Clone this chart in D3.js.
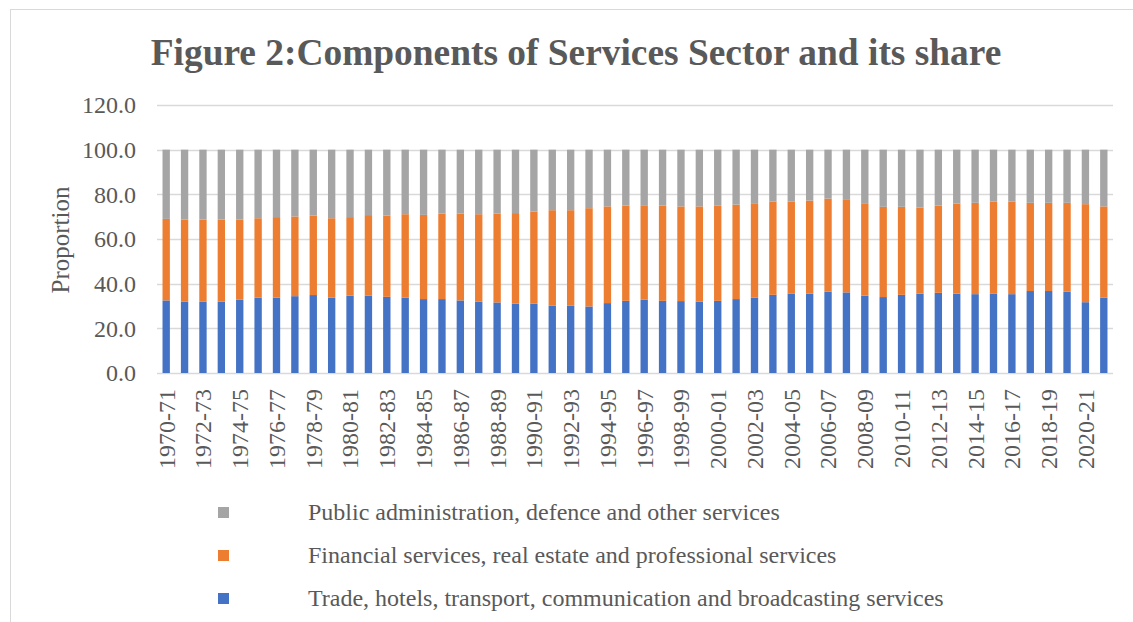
<!DOCTYPE html>
<html>
<head>
<meta charset="utf-8">
<script src="https://cdn.jsdelivr.net/npm/d3@7"></script>
<style>
  html, body { margin: 0; padding: 0; background: #fff; }
  svg { display: block; }
  text { font-family: "Liberation Serif", "Times New Roman", serif; fill: #595959; }
</style>
</head>
<body>
<svg id="chart" width="1133" height="622"></svg>
<script>
// Fiscal years, 1970-71 through 2021-22
const years = [
  "1970-71","1971-72","1972-73","1973-74","1974-75","1975-76","1976-77","1977-78",
  "1978-79","1979-80","1980-81","1981-82","1982-83","1983-84","1984-85","1985-86",
  "1986-87","1987-88","1988-89","1989-90","1990-91","1991-92","1992-93","1993-94",
  "1994-95","1995-96","1996-97","1997-98","1998-99","1999-00","2000-01","2001-02",
  "2002-03","2003-04","2004-05","2005-06","2006-07","2007-08","2008-09","2009-10",
  "2010-11","2011-12","2012-13","2013-14","2014-15","2015-16","2016-17","2017-18",
  "2018-19","2019-20","2020-21","2021-22"
];

// Share (%) of each component in services output
const trade = [
  32.5, 32.0, 31.9, 32.0, 32.8, 33.7, 33.7, 34.4, 34.9, 33.7, 34.6, 34.7, 34.1,
  33.7, 33.1, 33.1, 32.5, 32.0, 31.6, 31.1, 31.0, 30.1, 30.1, 29.8, 31.3, 32.3,
  32.8, 32.3, 32.2, 31.9, 32.3, 33.1, 33.8, 35.0, 35.6, 35.5, 36.4, 36.1, 34.6,
  34.0, 35.0, 35.5, 35.9, 35.5, 35.3, 35.6, 35.3, 36.7, 36.7, 36.4, 31.7, 33.7
];
const financial = [
  36.5, 36.7, 36.8, 36.7, 35.9, 35.6, 36.1, 35.7, 35.6, 35.6, 35.2, 36.0, 36.4,
  37.4, 37.7, 38.3, 38.9, 39.1, 39.8, 40.5, 41.3, 42.8, 42.8, 44.0, 43.3, 42.7,
  42.3, 42.7, 42.4, 42.7, 42.6, 42.3, 42.2, 41.8, 41.2, 41.7, 41.7, 41.7, 41.4,
  40.4, 39.4, 38.6, 39.1, 40.4, 40.9, 41.2, 41.5, 39.5, 39.5, 39.8, 43.9, 40.9
];
const publicAdmin = [
  31.0, 31.3, 31.3, 31.3, 31.3, 30.7, 30.2, 29.9, 29.5, 30.7, 30.2, 29.3, 29.5,
  28.9, 29.2, 28.6, 28.6, 28.9, 28.6, 28.4, 27.7, 27.1, 27.1, 26.2, 25.4, 25.0,
  24.9, 25.0, 25.4, 25.4, 25.1, 24.6, 24.0, 23.2, 23.2, 22.8, 21.9, 22.2, 24.0,
  25.6, 25.6, 25.9, 25.0, 24.1, 23.8, 23.2, 23.2, 23.8, 23.8, 23.8, 24.4, 25.4
];

const seriesNames = [
  "Trade, hotels, transport, communication and broadcasting services",
  "Financial services, real estate and professional services",
  "Public administration, defence and other services"
];
const seriesColors = ["#4472c4", "#ed7d31", "#a5a5a5"];
const yTicks = [0, 20, 40, 60, 80, 100, 120];

const svg = d3.select("#chart");
const W = 1133, H = 622;
const plot = { left: 157, right: 1113, top: 105, bottom: 373 };
const labelSize = 24;

// Outer chart frame (only top and left edges fall inside the view)
svg.append("rect")
  .attr("x", 10.5).attr("y", 9.5)
  .attr("width", W + 20).attr("height", H + 20)
  .attr("fill", "#fff").attr("stroke", "#d9d9d9").attr("stroke-width", 1);

const x = d3.scaleBand().domain(years)
  .range([plot.left, plot.right]).paddingInner(0.6).paddingOuter(0.3);
const y = d3.scaleLinear().domain([0, 120]).range([plot.bottom, plot.top]);

// Gridlines
svg.append("g")
  .selectAll("line").data(yTicks).join("line")
  .attr("x1", plot.left).attr("x2", plot.right)
  .attr("y1", d => Math.round(y(d)) + 0.5).attr("y2", d => Math.round(y(d)) + 0.5)
  .attr("stroke", "#d9d9d9").attr("stroke-width", 1.5);

// Y axis tick labels
const yAxis = d3.axisLeft(y).tickValues(yTicks).tickFormat(d3.format(".1f")).tickSize(0).tickPadding(0);
svg.append("g")
  .attr("transform", `translate(${plot.left - 21},0)`)
  .call(yAxis)
  .call(g => g.select(".domain").remove())
  .call(g => g.selectAll("text")
    .attr("font-size", labelSize).attr("fill", "#595959")
    .style("font-family", '"Liberation Serif", serif'));

// Stacked bars
const rows = years.map((yr, i) => ({ year: yr, s0: trade[i], s1: financial[i], s2: publicAdmin[i] }));
const stack = d3.stack().keys(["s0", "s1", "s2"]);
const layers = stack(rows);

svg.append("g")
  .selectAll("g").data(layers).join("g")
  .attr("fill", (d, i) => seriesColors[i])
  .selectAll("rect").data(d => d).join("rect")
  .attr("x", d => x(d.data.year))
  .attr("width", x.bandwidth())
  .attr("y", d => y(d[1]))
  .attr("height", d => y(d[0]) - y(d[1]));

// X axis labels (every other year), rotated
const xAxis = d3.axisBottom(x)
  .tickValues(years.filter((d, i) => i % 2 === 0))
  .tickSize(0).tickPadding(0);
svg.append("g")
  .attr("transform", `translate(0,${plot.bottom})`)
  .call(xAxis)
  .call(g => g.select(".domain").remove())
  .call(g => g.selectAll("text")
    .attr("font-size", labelSize).attr("fill", "#595959")
    .style("font-family", '"Liberation Serif", serif')
    .attr("text-anchor", "end")
    .attr("dy", "0.35em")
    .attr("transform", "translate(0,16) rotate(-90)")
    .attr("x", 0).attr("y", 0));

// Y axis title
svg.append("text")
  .attr("transform", "translate(69,240) rotate(-90)")
  .attr("text-anchor", "middle")
  .attr("font-size", 25)
  .text("Proportion");

// Chart title
svg.append("text")
  .attr("x", 576).attr("y", 65)
  .attr("text-anchor", "middle")
  .attr("font-size", 37.4).attr("font-weight", "bold")
  .text("Figure 2:Components of Services Sector and its share");

// Legend, listed top to bottom in reverse stacking order
const legendItems = [2, 1, 0];
const legend = svg.append("g").selectAll("g").data(legendItems).join("g")
  .attr("transform", (d, i) => `translate(218,${512 + i * 43})`);
legend.append("rect")
  .attr("x", 0).attr("y", -5).attr("width", 11).attr("height", 11)
  .attr("fill", d => seriesColors[d]);
legend.append("text")
  .attr("x", 90).attr("y", 0).attr("dy", "0.35em")
  .attr("font-size", labelSize)
  .text(d => seriesNames[d]);
</script>
</body>
</html>
